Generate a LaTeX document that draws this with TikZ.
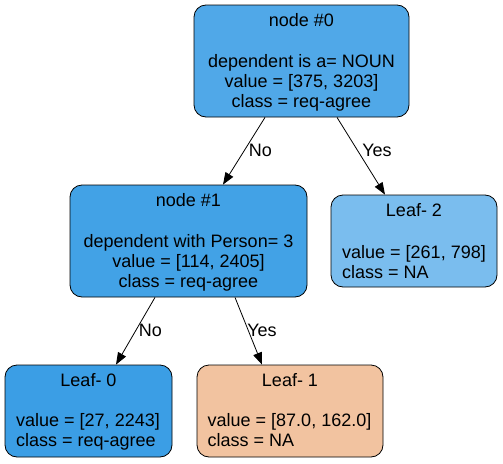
\documentclass[tikz,border=0pt]{standalone}
\usepackage{fontspec}
\setmainfont{Liberation Sans}
\usetikzlibrary{arrows.meta,calc}
\definecolor{cnzero}{RGB}{80,168,232}
\definecolor{cnone}{RGB}{66,162,230}
\definecolor{clzero}{RGB}{59,158,229}
\definecolor{clone}{RGB}{242,195,160}
\definecolor{cltwo}{RGB}{122,189,238}
\begin{document}
\begin{tikzpicture}[x=1pt,y=-1pt,
  font=\fontsize{18}{20}\selectfont,
  box/.style={draw=black,line width=0.8pt,rounded corners=12pt,rectangle,inner sep=0pt},
  txt/.style={inner sep=0pt,anchor=base},
  ltxt/.style={inner sep=0pt,anchor=base west},
  conn/.style={line width=0.8pt,-{Triangle[length=12pt,width=9pt]}},
  elab/.style={inner sep=0pt}]
\useasboundingbox[fill=white] (0,0) rectangle (503,463);
% boxes
\node[box,fill=cnzero,minimum width=215pt,minimum height=112pt] (n0) at (301.5,61) {};
\node[box,fill=cnone,minimum width=237pt,minimum height=112pt] (n1) at (188.5,241) {};
\node[box,fill=cltwo,minimum width=166pt,minimum height=92pt] (l2) at (414,241) {};
\node[box,fill=clzero,minimum width=167pt,minimum height=92pt] (l0) at (88.5,411) {};
\node[box,fill=clone,minimum width=186pt,minimum height=92pt] (l1) at (290,411) {};
% texts node 0
\node[txt] (t0a) at (301.5,26.5) {node \#0};
\node[txt] (t0b) at (301.5,67.5) {dependent is a= NOUN};
\node[txt] (t0c) at (301.5,87.5) {value = [375, 3203]};
\node[txt] (t0d) at (301.5,107.5) {class = req-agree};
% texts node 1
\node[txt] (t1a) at (188.5,206.5) {node \#1};
\node[txt] (t1b) at (188.5,247.5) {dependent with Person= 3};
\node[txt] (t1c) at (188.5,267.5) {value = [114, 2405]};
\node[txt] (t1d) at (188.5,287.5) {class = req-agree};
% leaf 2
\node[txt] (t2a) at (414,216.5) {Leaf- 2};
\node[ltxt] (t2b) at (342,258.5) {value = [261, 798]};
\node[ltxt] (t2c) at (342,278.5) {class = NA};
% leaf 0
\node[txt] (t3a) at (88.5,386.5) {Leaf- 0};
\node[ltxt] (t3b) at (16,426.5) {value = [27, 2243]};
\node[ltxt] (t3c) at (16,446.5) {class = req-agree};
% leaf 1
\node[txt] (t4a) at (290,386.5) {Leaf- 1};
\node[ltxt] (t4b) at (207.5,426.5) {value = [87.0, 162.0]};
\node[ltxt] (t4c) at (207.5,446.5) {class = NA};
% connectors
\draw[conn] ($(n0.south)+(-36.5,0)$) -- ($(n1.north)+(34.5,0)$);
\draw[conn] ($(n0.south)+(35.5,0)$) -- ($(l2.north)+(-29,0)$);
\draw[conn] ($(n1.south)+(-33.5,0)$) -- ($(l0.north)+(27.5,0)$);
\draw[conn] ($(n1.south)+(46.5,0)$) -- ($(l1.north)+(-28,0)$);
% edge labels
\node[elab] (e1) at (260.5,150) {No};
\node[elab] (e2) at (377,150) {Yes};
\node[elab] (e3) at (150.5,330) {No};
\node[elab] (e4) at (262,330) {Yes};
\end{tikzpicture}
\end{document}
